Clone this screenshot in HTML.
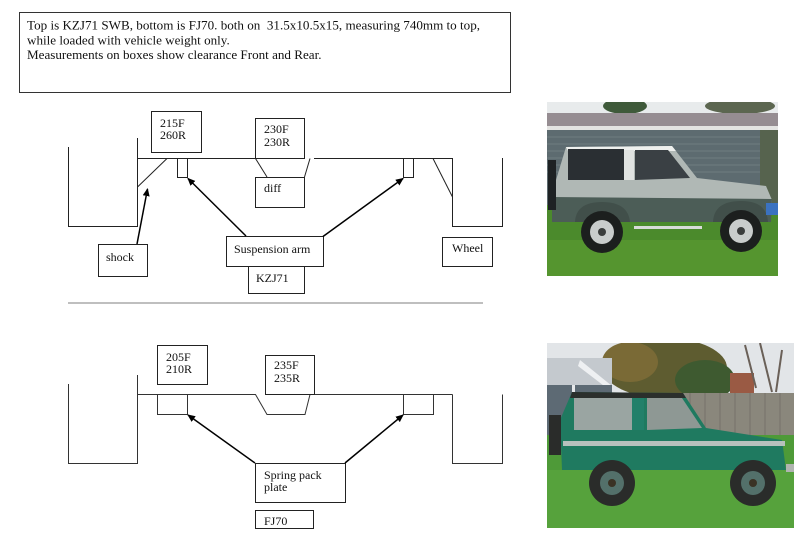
<!DOCTYPE html>
<html><head><meta charset="utf-8">
<style>
html,body{margin:0;padding:0;background:#fff;}
svg{display:block;}
text{font-family:"Liberation Serif","Times New Roman",serif;fill:#111;}
</style></head>
<body>
<svg width="800" height="537" viewBox="0 0 800 537" xmlns="http://www.w3.org/2000/svg">
<defs>
<marker id="ah" markerWidth="8" markerHeight="8" refX="7" refY="4" orient="auto" markerUnits="userSpaceOnUse">
<path d="M0,0.5 L8,4 L0,7.5 z" fill="#000"/>
</marker>
<clipPath id="c1"><rect x="547" y="102" width="231" height="174"/></clipPath>
<clipPath id="c2"><rect x="547" y="343" width="247" height="185"/></clipPath>
</defs>

<!-- top note box -->
<rect x="19.5" y="12.5" width="491" height="80" fill="#fff" stroke="#333" stroke-width="1"/>
<text x="27" y="29.5" font-size="13.1">Top is KZJ71 SWB, bottom is FJ70. both on &#160;31.5x10.5x15, measuring 740mm to top,</text>
<text x="27" y="44.5" font-size="13.1">while loaded with vehicle weight only.</text>
<text x="27" y="59" font-size="13.1">Measurements on boxes show clearance Front and Rear.</text>

<!-- ===== TOP DIAGRAM ===== -->
<g fill="none" stroke="#222" stroke-width="1">
<polyline points="68.5,147 68.5,226.5 137.5,226.5 137.5,138"/>
<line x1="137.5" y1="158.5" x2="304" y2="158.5"/>
<line x1="314" y1="158.5" x2="452.5" y2="158.5"/>
<polyline points="452.5,158 452.5,226.5 502.5,226.5 502.5,158"/>
<line x1="167" y1="158.5" x2="137.5" y2="187"/>
<line x1="433" y1="158.5" x2="452.5" y2="197"/>
<rect x="177.5" y="158.5" width="10" height="19"/>
<rect x="403.5" y="158.5" width="10" height="19"/>
<line x1="255.5" y1="158.5" x2="267" y2="177"/>
<line x1="310" y1="158.5" x2="304.5" y2="177"/>
</g>

<g fill="#fff" stroke="#222" stroke-width="1">
<rect x="151.5" y="111.5" width="50" height="41"/>
<rect x="255.5" y="118.5" width="49" height="40"/>
<rect x="255.5" y="177.5" width="49" height="30"/>
<rect x="98.5" y="244.5" width="49" height="32"/>
<rect x="226.5" y="236.5" width="97" height="30"/>
<rect x="248.5" y="266.5" width="56" height="27"/>
<rect x="442.5" y="237.5" width="50" height="29"/>
</g>

<g stroke="#000" stroke-width="1.5" fill="none">
<line x1="137" y1="244" x2="147.5" y2="189" marker-end="url(#ah)"/>
<line x1="246" y1="236" x2="188" y2="178.5" marker-end="url(#ah)"/>
<line x1="323" y1="236.5" x2="403" y2="178.5" marker-end="url(#ah)"/>
</g>

<g font-size="12">
<text x="160" y="127">215F</text>
<text x="160" y="139">260R</text>
<text x="264" y="133">230F</text>
<text x="264" y="146">230R</text>
<text x="264" y="192">diff</text>
<text x="106" y="261">shock</text>
<text x="234" y="253">Suspension arm</text>
<text x="256" y="282">KZJ71</text>
<text x="452" y="252">Wheel</text>
</g>

<!-- separator -->
<line x1="68" y1="303" x2="483" y2="303" stroke="#aaa" stroke-width="1.5"/>

<!-- ===== BOTTOM DIAGRAM ===== -->
<g fill="none" stroke="#333" stroke-width="1">
<polyline points="68.5,384 68.5,463.5 137.5,463.5 137.5,375"/>
<polyline points="137.5,394.5 255.5,394.5 267,414.5 305,414.5 310,394.5 452.5,394.5"/>
<polyline points="452.5,394.5 452.5,463.5 502.5,463.5 502.5,394.5"/>
<rect x="157.5" y="394.5" width="30" height="20"/>
<rect x="403.5" y="394.5" width="30" height="20"/>
</g>
<g fill="#fff" stroke="#222" stroke-width="1">
<rect x="157.5" y="345.5" width="50" height="39"/>
<rect x="265.5" y="355.5" width="49" height="39"/>
<rect x="255.5" y="463.5" width="90" height="39"/>
<rect x="255.5" y="510.5" width="58" height="18"/>
</g>
<g stroke="#000" stroke-width="1.5" fill="none">
<line x1="255" y1="463" x2="188" y2="415" marker-end="url(#ah)"/>
<line x1="345" y1="463" x2="403" y2="415" marker-end="url(#ah)"/>
</g>
<g font-size="12">
<text x="166" y="361">205F</text>
<text x="166" y="373">210R</text>
<text x="274" y="369">235F</text>
<text x="274" y="382">235R</text>
<text x="264" y="479">Spring pack</text>
<text x="264" y="491">plate</text>
<text x="264" y="525">FJ70</text>
</g>

<!-- ===== TOP PHOTO ===== -->
<g clip-path="url(#c1)">
<rect x="547" y="102" width="231" height="174" fill="#e8ebec"/>
<ellipse cx="625" cy="106" rx="22" ry="8" fill="#3f5a3a"/>
<ellipse cx="740" cy="106" rx="35" ry="8" fill="#5c6650"/>
<rect x="547" y="113" width="231" height="15" fill="#968d92"/>
<rect x="547" y="126" width="231" height="4" fill="#e4e4e2"/>
<rect x="547" y="130" width="213" height="80" fill="#5d6b70"/>
<g stroke="#6e7c80" stroke-width="1">
<line x1="547" y1="137" x2="760" y2="137"/><line x1="547" y1="144" x2="760" y2="144"/>
<line x1="547" y1="151" x2="760" y2="151"/><line x1="547" y1="158" x2="760" y2="158"/>
<line x1="547" y1="165" x2="760" y2="165"/><line x1="547" y1="172" x2="760" y2="172"/>
</g>
<rect x="760" y="130" width="18" height="80" fill="#56634e"/>
<rect x="547" y="205" width="231" height="71" fill="#4b8a2c"/>
<rect x="547" y="240" width="231" height="36" fill="#55952f"/>
<!-- car -->
<path d="M566,147 L672,146 L697,178 L766,186 L772,200 L770,222 L552,222 L553,190 Z" fill="#b0b8b5"/>
<path d="M566,147 L672,146 L676,151 L568,151 Z" fill="#eef0ee"/>
<rect x="568" y="149" width="56" height="31" fill="#2a2f33"/>
<rect x="624" y="150" width="10" height="30" fill="#e0e3e1"/>
<path d="M635,150 L668,150 L690,178 L635,180 Z" fill="#3a4044"/>
<path d="M552,197 L772,199 L771,222 L552,222 Z" fill="#4c5d57"/>
<path d="M575,222 Q576,202 602,202 Q628,202 630,222 Z" fill="#414f4a"/>
<path d="M713,222 Q714,201 741,201 Q767,201 768,222 Z" fill="#414f4a"/>
<rect x="634" y="226" width="68" height="3" fill="#d8dbd8"/>
<rect x="548" y="160" width="8" height="50" fill="#1e2224"/>
<circle cx="602" cy="232" r="21" fill="#1c1f1e"/>
<circle cx="602" cy="232" r="12" fill="#c9cdcc"/>
<circle cx="602" cy="232" r="4" fill="#3a3d3c"/>
<circle cx="741" cy="231" r="21" fill="#1c1f1e"/>
<circle cx="741" cy="231" r="12" fill="#c9cdcc"/>
<circle cx="741" cy="231" r="4" fill="#3a3d3c"/>
<rect x="766" y="203" width="12" height="12" fill="#3b72c0"/>
</g>

<!-- ===== BOTTOM PHOTO ===== -->
<g clip-path="url(#c2)">
<rect x="547" y="343" width="247" height="185" fill="#e2e5e8"/>
<ellipse cx="665" cy="368" rx="62" ry="30" fill="#5e5c30"/>
<ellipse cx="705" cy="380" rx="30" ry="20" fill="#3e5a30"/>
<ellipse cx="630" cy="362" rx="28" ry="20" fill="#7a6a36"/>
<rect x="730" y="373" width="24" height="22" fill="#9a5a44"/>
<path d="M760,343 L772,392 M782,350 L776,392 M745,345 L756,388" stroke="#6a6058" stroke-width="2" fill="none"/>
<!-- house -->
<rect x="547" y="358" width="65" height="30" fill="#c4c9ce"/>
<path d="M580,360 L612,386 L612,392 L578,366 Z" fill="#eef0f2"/>
<rect x="547" y="385" width="65" height="85" fill="#5d6a74"/>
<rect x="572" y="385" width="3" height="40" fill="#e6e8ea"/>
<rect x="680" y="393" width="114" height="45" fill="#8a877c"/>
<g stroke="#75726a" stroke-width="1">
<line x1="690" y1="393" x2="690" y2="438"/><line x1="705" y1="393" x2="705" y2="438"/>
<line x1="720" y1="393" x2="720" y2="438"/><line x1="735" y1="393" x2="735" y2="438"/>
<line x1="750" y1="393" x2="750" y2="438"/><line x1="765" y1="393" x2="765" y2="438"/>
<line x1="780" y1="393" x2="780" y2="438"/>
</g>
<rect x="547" y="435" width="247" height="93" fill="#4e9a38"/>
<rect x="547" y="470" width="247" height="58" fill="#56a23c"/>
<!-- car -->
<path d="M572,392 L683,393 L706,428 L782,440 L786,470 L562,470 L560,420 Z" fill="#1f7a60"/>
<path d="M572,392 L683,393 L686,398 L570,398 Z" fill="#2b2f2c"/>
<rect x="574" y="398" width="58" height="32" fill="#9aa5a2"/>
<rect x="632" y="398" width="12" height="32" fill="#22806a"/>
<path d="M647,398 L682,398 L702,428 L647,430 Z" fill="#8e9894"/>
<rect x="563" y="441" width="222" height="5" fill="#b7c1bd"/>
<rect x="549" y="415" width="12" height="40" fill="#2a2c2a"/>
<rect x="786" y="464" width="8" height="8" fill="#b0b4b0"/>
<circle cx="612" cy="483" r="23" fill="#2a2c2a"/>
<circle cx="612" cy="483" r="12" fill="#53706a"/>
<circle cx="612" cy="483" r="4" fill="#3a3224"/>
<circle cx="753" cy="483" r="23" fill="#2a2c2a"/>
<circle cx="753" cy="483" r="12" fill="#53706a"/>
<circle cx="753" cy="483" r="4" fill="#3a3224"/>
</g>
</svg>
</body></html>
